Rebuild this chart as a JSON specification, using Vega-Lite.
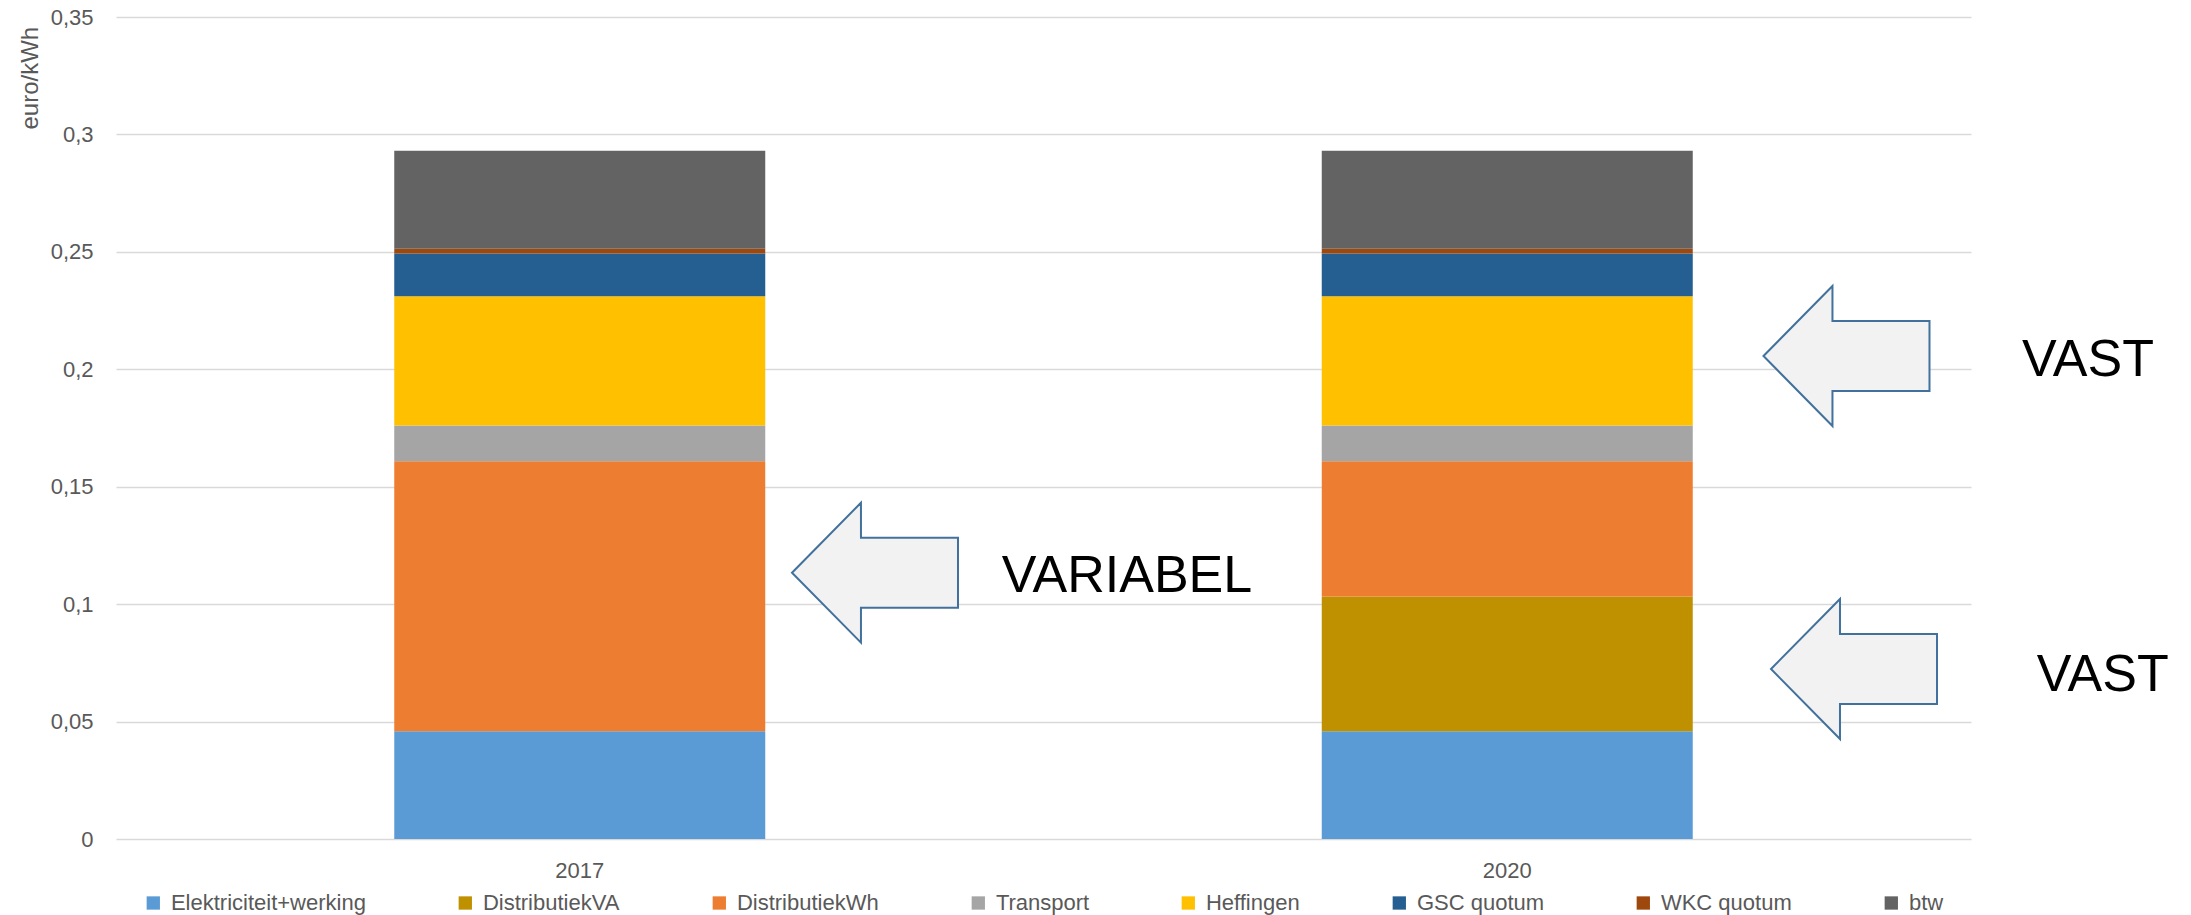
{
  "$schema": "https://vega.github.io/schema/vega-lite/v6.json",
  "autosize": {"type": "none"},
  "padding": {"left": 116, "top": 17, "right": 220, "bottom": 76},
  "width": 1855,
  "height": 822,
  "background": "white",
  "config": {"view": {"stroke": null}, "font": "Liberation Sans"},
  "datasets": {
    "kosten": [
      {"jaar": "2017", "component": "Elektriciteit+werking", "rang": 1, "waarde": 0.0459},
      {"jaar": "2017", "component": "DistributiekVA", "rang": 2, "waarde": 0},
      {"jaar": "2017", "component": "DistributiekWh", "rang": 3, "waarde": 0.1149},
      {"jaar": "2017", "component": "Transport", "rang": 4, "waarde": 0.0153},
      {"jaar": "2017", "component": "Heffingen", "rang": 5, "waarde": 0.0550},
      {"jaar": "2017", "component": "GSC quotum", "rang": 6, "waarde": 0.0182},
      {"jaar": "2017", "component": "WKC quotum", "rang": 7, "waarde": 0.0020},
      {"jaar": "2017", "component": "btw", "rang": 8, "waarde": 0.0418},
      {"jaar": "2020", "component": "Elektriciteit+werking", "rang": 1, "waarde": 0.0459},
      {"jaar": "2020", "component": "DistributiekVA", "rang": 2, "waarde": 0.0574},
      {"jaar": "2020", "component": "DistributiekWh", "rang": 3, "waarde": 0.0575},
      {"jaar": "2020", "component": "Transport", "rang": 4, "waarde": 0.0153},
      {"jaar": "2020", "component": "Heffingen", "rang": 5, "waarde": 0.0550},
      {"jaar": "2020", "component": "GSC quotum", "rang": 6, "waarde": 0.0182},
      {"jaar": "2020", "component": "WKC quotum", "rang": 7, "waarde": 0.0020},
      {"jaar": "2020", "component": "btw", "rang": 8, "waarde": 0.0418}
    ],
    "pijlen": [
      {"px": 0.93288, "waarde": 0.20566},
      {"px": 0.93693, "waarde": 0.07238},
      {"px": 0.40916, "waarde": 0.11339}
    ],
    "teksten": [
      {"tx": 1.02749, "waarde": 0.19727, "label": "VAST"},
      {"tx": 1.03542, "waarde": 0.06315, "label": "VAST"},
      {"tx": 0.47747, "waarde": 0.1053, "label": "VARIABEL"}
    ]
  },
  "layer": [
    {
      "data": {"name": "kosten"},
      "mark": {"type": "bar"},
      "encoding": {
        "x": {
          "field": "jaar", "type": "nominal",
          "scale": {"paddingInner": 0.6, "paddingOuter": 0.3},
          "axis": {"title": null, "labelAngle": 0, "domain": false, "ticks": false, "tickSize": 0, "labelPadding": 21, "labelFont": "Liberation Sans", "labelFontSize": 22, "labelColor": "#595959", "grid": false}
        },
        "y": {
          "field": "waarde", "type": "quantitative", "stack": "zero",
          "scale": {"domain": [0, 0.35], "nice": false},
          "axis": {
            "title": "euro/kWh", "titleFont": "Liberation Sans", "titleFontSize": 24, "titleFontWeight": "normal", "titleColor": "#595959",
            "titleAngle": -90, "titleAlign": "right", "titleBaseline": "alphabetic", "titleX": -78.7, "titleY": 9.3,
            "values": [0, 0.05, 0.1, 0.15, 0.2, 0.25, 0.3, 0.35],
            "labelExpr": "replace(format(datum.value, '.2~f'), '.', ',')",
            "grid": true, "gridColor": "#D9D9D9", "gridWidth": 1.3,
            "domain": false, "ticks": false, "tickSize": 0, "labelPadding": 23,
            "labelFont": "Liberation Sans", "labelFontSize": 22, "labelColor": "#595959"
          }
        },
        "color": {
          "field": "component", "type": "nominal",
          "scale": {
            "domain": ["Elektriciteit+werking", "DistributiekVA", "DistributiekWh", "Transport", "Heffingen", "GSC quotum", "WKC quotum", "btw"],
            "range": ["#5B9BD5", "#BF9000", "#ED7D31", "#A5A5A5", "#FFC000", "#255E91", "#9E480E", "#636363"]
          },
          "legend": {
            "orient": "none", "legendX": 26.3, "legendY": 875, "direction": "horizontal", "title": null,
            "symbolType": "square", "symbolSize": 177, "symbolStrokeWidth": 0,
            "labelFont": "Liberation Sans", "labelFontSize": 22, "labelColor": "#595959",
            "labelOffset": 6.6, "columnPadding": 88, "labelLimit": 0, "padding": 0
          }
        },
        "order": {"field": "rang", "type": "quantitative"}
      }
    },
    {
      "data": {"name": "pijlen"},
      "mark": {
        "type": "point",
        "shape": "M -1 0 L -0.169 -0.843 L -0.169 -0.422 L 1 -0.422 L 1 0.422 L -0.169 0.422 L -0.169 0.843 Z",
        "filled": true, "fill": "#F2F2F2", "stroke": "#41719C", "strokeWidth": 2, "opacity": 1, "size": 27556
      },
      "encoding": {
        "x": {"field": "px", "type": "quantitative", "scale": {"domain": [0, 1], "nice": false, "zero": false}, "axis": null},
        "y": {"field": "waarde", "type": "quantitative"}
      }
    },
    {
      "data": {"name": "teksten"},
      "mark": {"type": "text", "align": "left", "baseline": "alphabetic", "fontSize": 52, "color": "#000000", "font": "Liberation Sans"},
      "encoding": {
        "x": {"field": "tx", "type": "quantitative", "scale": {"domain": [0, 1], "nice": false, "zero": false}, "axis": null},
        "y": {"field": "waarde", "type": "quantitative"},
        "text": {"field": "label"}
      }
    }
  ],
  "resolve": {"scale": {"x": "independent"}, "axis": {"x": "independent"}}
}
